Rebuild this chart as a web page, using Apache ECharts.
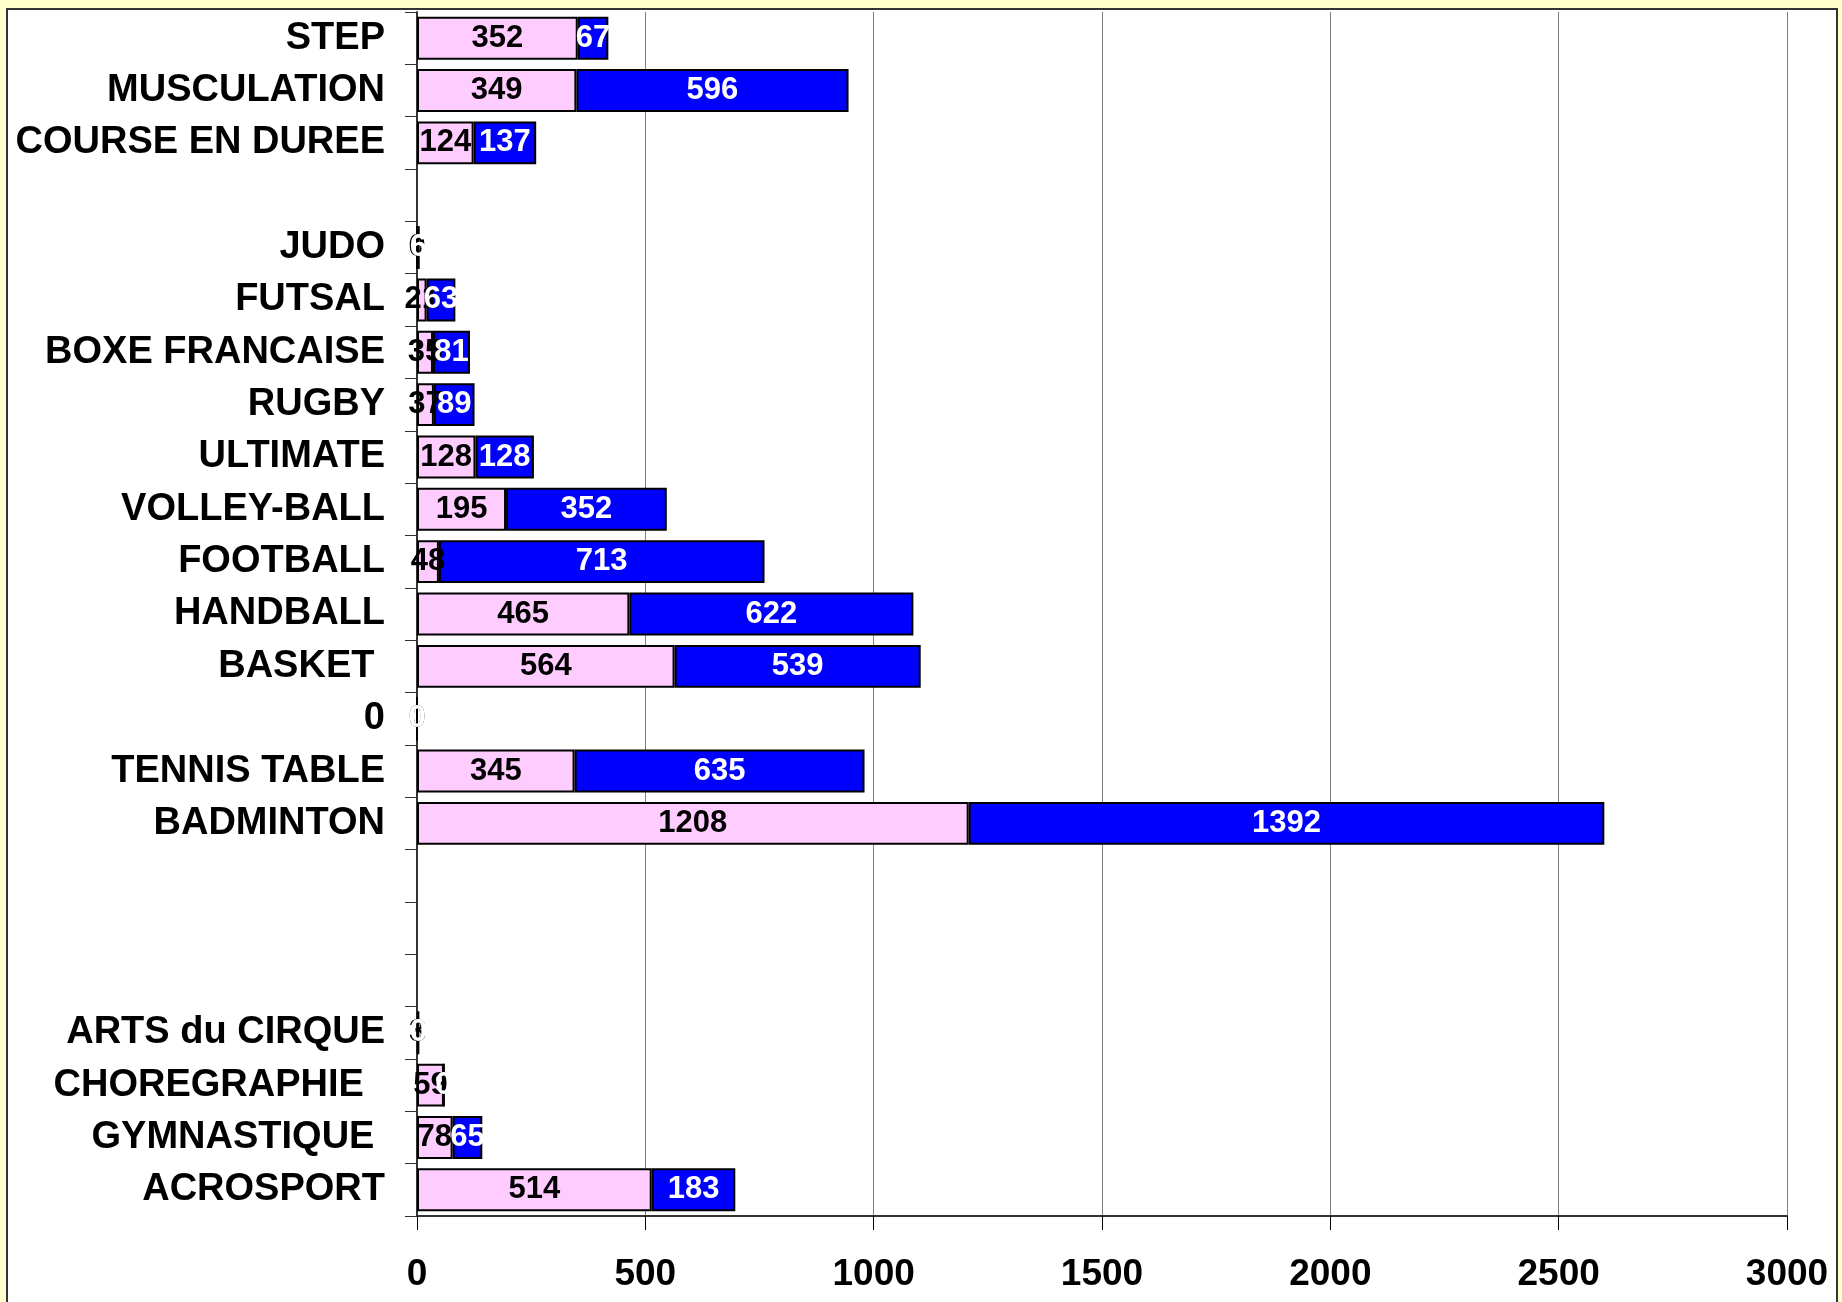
<!DOCTYPE html>
<html>
<head>
<meta charset="utf-8">
<script src="https://cdn.jsdelivr.net/npm/echarts@6/dist/echarts.min.js"></script>
<style>
  html, body { margin: 0; padding: 0; background: #ffffcc; }
  #chart { width: 1842px; height: 1302px; }
</style>
</head>
<body>
<div id="chart"></div>
<script>
// categories, top to bottom (empty strings are the blank rows of the sheet)
var categories = [
  "STEP", "MUSCULATION", "COURSE EN DUREE", "",
  "JUDO", "FUTSAL", "BOXE FRANCAISE", "RUGBY", "ULTIMATE", "VOLLEY-BALL",
  "FOOTBALL", "HANDBALL", "BASKET ", "0", "TENNIS TABLE", "BADMINTON",
  "", "", "",
  "ARTS du CIRQUE", "CHOREGRAPHIE  ", "GYMNASTIQUE ", "ACROSPORT"
];
// first (pink) series
var pinkValues = [352, 349, 124, null, 0, 21, 35, 37, 128, 195, 48, 465, 564, 0, 345, 1208, null, null, null, 3, 59, 78, 514];
// second (blue) series
var blueValues = [67, 596, 137, null, 6, 63, 81, 89, 128, 352, 713, 622, 539, 0, 635, 1392, null, null, null, 0, 0, 65, 183];
var xTicks = [0, 500, 1000, 1500, 2000, 2500, 3000];

var chart = echarts.init(document.getElementById('chart'));
var fontFamily = "'Liberation Sans', Arial, sans-serif";

var option = {
  animation: false,
  backgroundColor: "#ffffcc",
  graphic: [
    {
      type: "rect",
      z: -10,
      shape: { x: 7, y: 9, width: 1830, height: 1310 },
      style: { fill: "#ffffff", stroke: "#333333", lineWidth: 2 }
    }
  ],
  grid: {
    left: 417,
    right: 55,
    top: 12,
    bottom: 86,
    containLabel: false
  },
  xAxis: {
    type: "value",
    min: xTicks[0],
    max: xTicks[xTicks.length - 1],
    interval: 500,
    axisLine: { show: true, lineStyle: { color: "#333333", width: 2 } },
    axisTick: { show: true, inside: false, length: 14, lineStyle: { color: "#000000", width: 1 } },
    axisLabel: {
      color: "#000000",
      fontFamily: fontFamily,
      fontWeight: "bold",
      fontSize: 37,
      margin: 40,
      formatter: function (v) { return String(v); }
    },
    splitLine: { show: true, lineStyle: { color: "#7f7f7f", width: 1 } }
  },
  yAxis: {
    type: "category",
    inverse: true,
    data: categories,
    axisLine: { show: true, lineStyle: { color: "#333333", width: 2 } },
    axisTick: { show: true, length: 12, lineStyle: { color: "#333333", width: 1 } },
    axisLabel: {
      color: "#000000",
      fontFamily: fontFamily,
      fontWeight: "bold",
      fontSize: 38,
      margin: 32
    },
    splitLine: { show: false }
  },
  series: [
    {
      name: "pink",
      type: "bar",
      stack: "total",
      barCategoryGap: "18%",
      data: pinkValues,
      itemStyle: { color: "#ffccff", borderColor: "#000000", borderWidth: 2 },
      label: {
        show: true,
        position: "inside",
        color: "#000000",
        fontFamily: fontFamily,
        fontWeight: "bold",
        fontSize: 31
      }
    },
    {
      name: "blue",
      type: "bar",
      stack: "total",
      barCategoryGap: "18%",
      data: blueValues,
      itemStyle: { color: "#0000ff", borderColor: "#000000", borderWidth: 2 },
      label: {
        show: true,
        position: "inside",
        color: "#ffffff",
        fontFamily: fontFamily,
        fontWeight: "bold",
        fontSize: 31
      }
    }
  ]
};

chart.setOption(option);
</script>
</body>
</html>
